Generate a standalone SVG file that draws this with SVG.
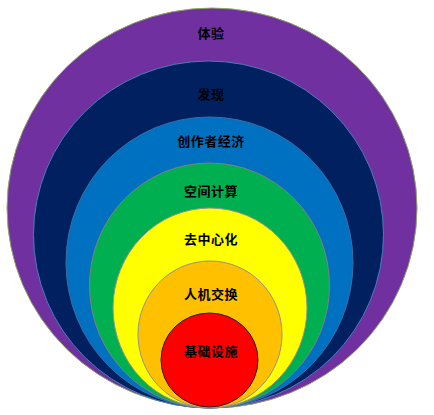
<svg xmlns="http://www.w3.org/2000/svg" width="434" height="415" viewBox="0 0 434 415">
<style>
.t{font-family:"Noto Sans CJK SC","Noto Sans CJK JP",sans-serif;font-size:13px;font-weight:bold;fill:#000;text-anchor:middle;dominant-baseline:central;letter-spacing:0.5px}
</style>
<rect width="434" height="415" fill="#fff"/>
<g id="n-tiyan"><ellipse cx="212" cy="208" rx="205" ry="200" fill="#7030A0" stroke="#8FA865" stroke-width="1"/><text class="t" x="211" y="32">体验</text></g>
<g id="n-faxian"><ellipse cx="208.5" cy="234.5" rx="175" ry="173.5" fill="#002060" stroke="#4A7EBB" stroke-width="1"/><text class="t" x="211" y="93">发现</text></g>
<g id="n-chuangzuozhe"><ellipse cx="209.5" cy="262.5" rx="143.5" ry="145.5" fill="#0070C0" stroke="#3A6FA8" stroke-width="1"/><text class="t" x="211" y="140">创作者经济</text></g>
<g id="n-kongjian"><ellipse cx="209.5" cy="285.5" rx="120" ry="122.5" fill="#00B050" stroke="#808080" stroke-width="1"/><text class="t" x="211" y="190">空间计算</text></g>
<g id="n-quzhongxin"><ellipse cx="210" cy="308" rx="97" ry="100" fill="#FFFF00" stroke="#909090" stroke-width="1"/><text class="t" x="211" y="238">去中心化</text></g>
<g id="n-renji"><ellipse cx="210" cy="334.5" rx="72" ry="73.5" fill="#FFC000" stroke="#909090" stroke-width="1"/><text class="t" x="211" y="293">人机交换</text></g>
<g id="n-jichu"><ellipse cx="209.5" cy="360" rx="48.5" ry="47" fill="#FF0000" stroke="#222" stroke-width="1"/><text class="t" x="211" y="350">基础设施</text></g>
<g id="connectors"></g>
</svg>
